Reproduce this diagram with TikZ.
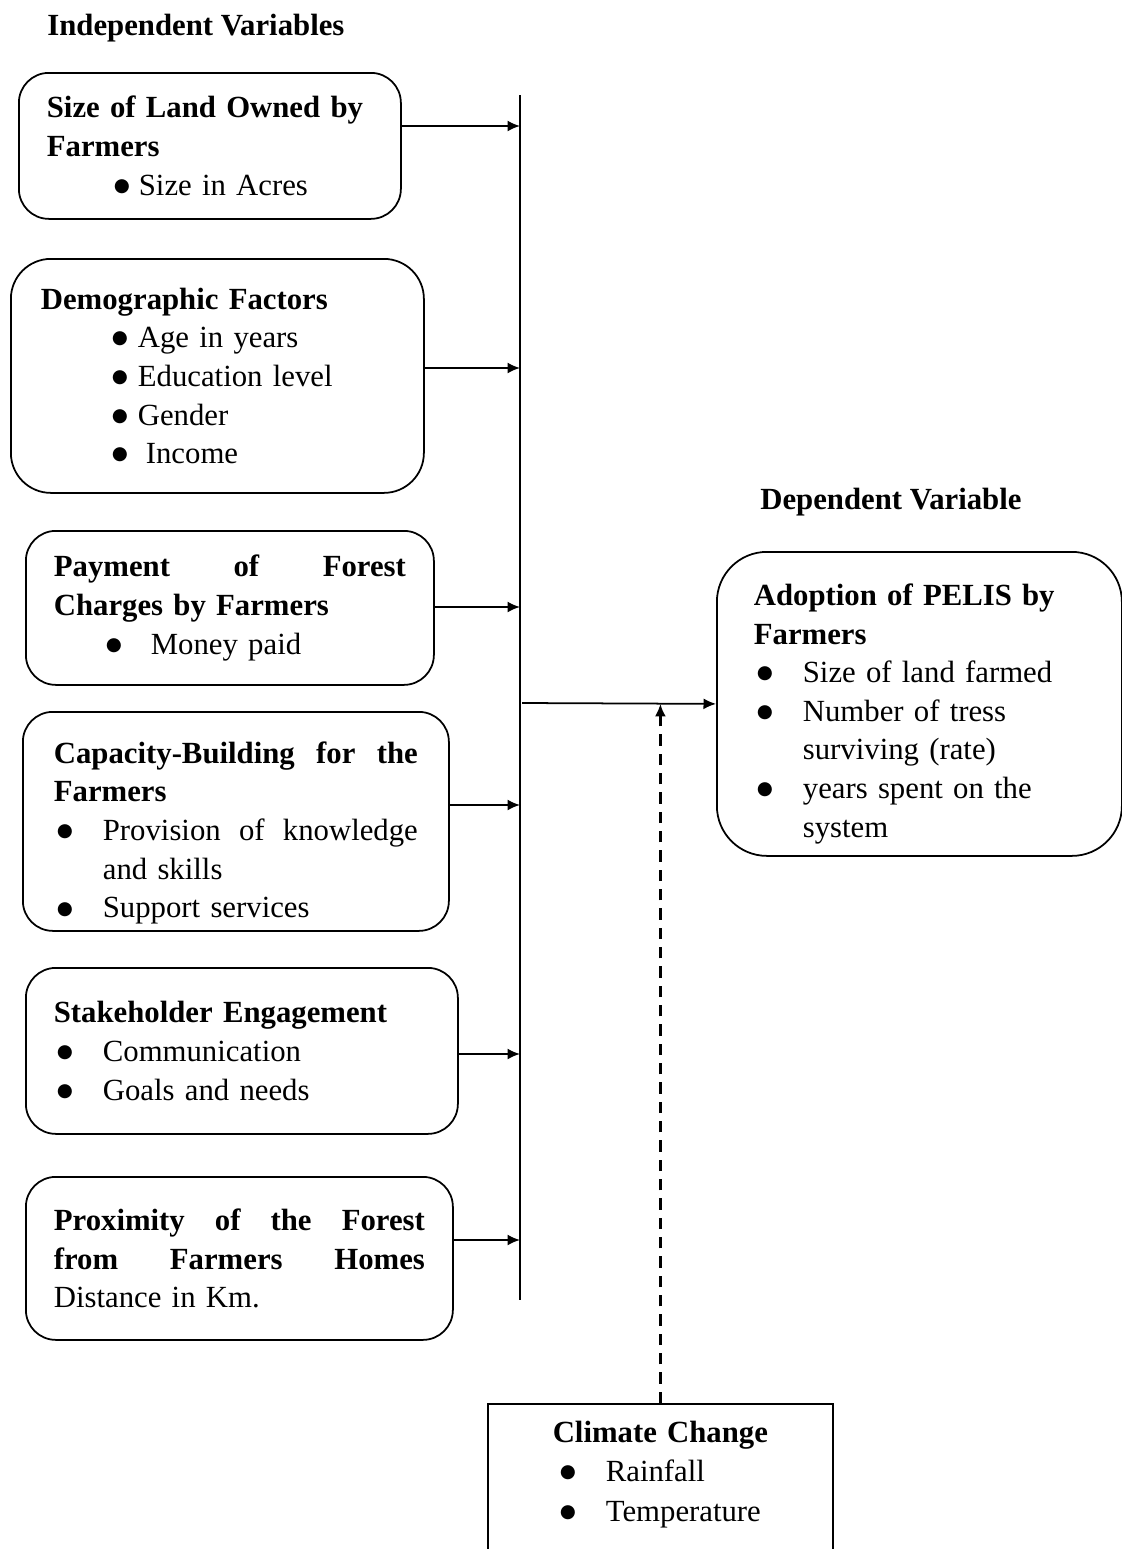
\documentclass[tikz,border=0pt]{standalone}
\usepackage{fontspec}
\setmainfont{Liberation Serif}
\newfontfamily\dotfont{DejaVu Sans}
\usetikzlibrary{arrows.meta, positioning}
\tikzset{
    varbox/.style = {draw, rounded corners=6mm, line width=1pt, align=left, anchor=north west, inner xsep=5.6mm, font=\fontsize{17.5}{22}\selectfont}, % one box per variable
    climbox/.style = {draw, line width=1pt, align=left, anchor=north west, inner xsep=5mm, inner ysep=3.4mm, font=\fontsize{17.5}{22.5}\selectfont},
    head/.style = {anchor=base west, inner sep=0pt, font=\fontsize{17.5}{22.5}\selectfont\bfseries},
    arr/.style = {-{Latex[length=2.5mm,width=2.2mm]}, line width=1pt},
    bus/.style = {line width=1pt}
}
% bullet line: indent, bullet width, text
\newcommand{\bul}[3]{\hspace*{#1}\makebox[#2][l]{\raisebox{2.2pt}{\dotfont\fontsize{10.5}{10.5}\selectfont ●}}#3}
% pushes the text of a box down
\newcommand{\lift}[1]{\rule{0pt}{#1}}

\begin{document}
\begin{tikzpicture}[x=0.2mm, y=-0.2mm]
\useasboundingbox (0,0) rectangle (1122,1549);

\node[head] (indep) at (47,35) {Independent Variables};
\node[head] (dep) at (760,509) {Dependent Variable};

\node[varbox, text width=65.2mm, minimum height=29.2mm] (land) at (18,72)
    {\textbf{Size of Land Owned by}\\ \textbf{Farmers}\\ \bul{13.4mm}{5mm}{Size in Acres}};
\node[varbox, rounded corners=8mm, inner xsep=6mm, text width=70.6mm, minimum height=46.8mm] (demo) at (10,258)
    {\textbf{Demographic Factors}\\ \bul{14.2mm}{5.2mm}{Age in years}\\ \bul{14.2mm}{5.2mm}{Education level}\\
     \bul{14.2mm}{5.2mm}{Gender}\\ \bul{14.2mm}{6.8mm}{Income}};
\node[varbox, text width=70.4mm, minimum height=30.8mm] (pay) at (25,530)
    {\textbf{Payment\hfill of\hfill Forest}\\ \textbf{Charges by Farmers}\\ \bul{10.4mm}{9mm}{Money paid}};
\node[varbox, inner xsep=6.2mm, text width=72.8mm, minimum height=43.8mm] (cap) at (22,711)
    {\lift{9mm}\textbf{Capacity-Building\hfill for\hfill the}\\ \textbf{Farmers}\\ \bul{0.6mm}{9.2mm}{Provision\hfill of\hfill knowledge}\\
     \hspace*{9.8mm}and skills\\ \bul{0.6mm}{9.2mm}{Support services}};
\node[varbox, text width=75.2mm, minimum height=33.2mm] (stake) at (25,967)
    {\textbf{Stakeholder Engagement}\\ \bul{0.6mm}{9.2mm}{Communication}\\ \bul{0.6mm}{9.2mm}{Goals and needs}};
\node[varbox, text width=74.2mm, minimum height=32.6mm] (prox) at (25,1176)
    {\textbf{Proximity\hfill of\hfill the\hfill Forest}\\ \textbf{from\hfill Farmers\hfill Homes}\\ Distance in Km.};

\node[varbox, rounded corners=10mm, inner xsep=7.4mm, text width=66.2mm, minimum height=60.8mm] (adopt) at (716,551)
    {\lift{8.3mm}\textbf{Adoption of PELIS by}\\ \textbf{Farmers}\\ \bul{0.6mm}{9.2mm}{Size of land farmed}\\
     \bul{0.6mm}{9.2mm}{Number of tress}\\ \hspace*{9.8mm}surviving (rate)\\ \bul{0.6mm}{9.2mm}{years spent on the}\\
     \hspace*{9.8mm}system};

\node[climbox, text width=59mm] (climate) at (487,1403)
    {\makebox[\hsize]{\textbf{Climate Change}}\\ \bul{9.4mm}{9.2mm}{Rainfall}\\ \bul{9.4mm}{9.2mm}{Temperature}\\ \mbox{}};

% collecting line
\coordinate (top) at (520,95);
\coordinate (bot) at (520,1300);
\draw[bus] (top) -- (bot);
\coordinate (b1) at (520,126);
\coordinate (b2) at (520,368);
\coordinate (b3) at (520,607);
\coordinate (b4) at (520,805);
\coordinate (b5) at (520,1054);
\coordinate (b6) at (520,1240);
\coordinate (mid) at (522,703);

\path[arr] (b1 -| land.east) edge (b1);
\path[arr] (b2 -| demo.east) edge (b2);
\path[arr] (b3 -| pay.east) edge (b3);
\path[arr] (b4 -| cap.east) edge (b4);
\path[arr] (b5 -| stake.east) edge (b5);
\path[arr] (b6 -| prox.east) edge (b6);
\path[arr] (mid) edge (adopt.west);
\path[arr, line width=1.3pt, dash pattern=on 6.5pt off 4.5pt] (climate.north) edge (climate.north |- adopt.west);
\end{tikzpicture}
\end{document}
